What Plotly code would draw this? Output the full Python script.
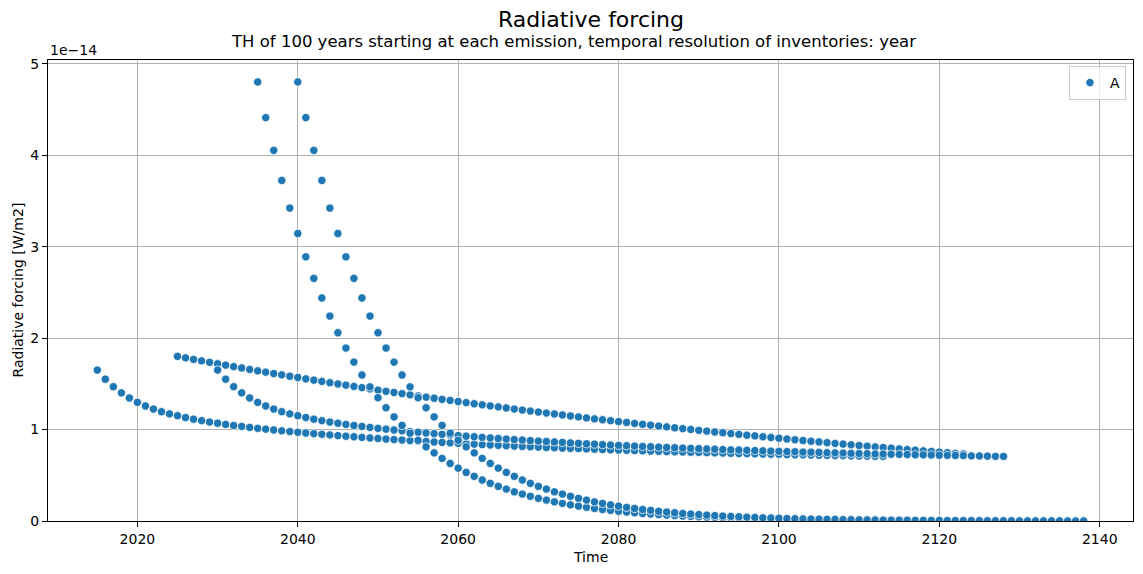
import plotly.graph_objects as go

# Emissions: year of emission and which response curve it follows
emission_years = [2015, 2025, 2030, 2035, 2040]
emission_gas = ["CO2", "N2O", "CO2", "CH4", "CH4"]

# Radiative forcing response after each emission, one value per year (units: 1e-14 W/m2)
co2_rf = [1.650, 1.550, 1.468, 1.401, 1.345, 1.297, 1.257, 1.224, 1.195, 1.171,
          1.151, 1.131, 1.113, 1.097, 1.082, 1.069, 1.056, 1.044, 1.034, 1.023,
          1.013, 1.004, 0.995, 0.986, 0.978, 0.970, 0.962, 0.955, 0.948, 0.941,
          0.934, 0.927, 0.921, 0.914, 0.908, 0.902, 0.896, 0.890, 0.885, 0.879,
          0.874, 0.869, 0.864, 0.859, 0.854, 0.849, 0.844, 0.840, 0.835, 0.831,
          0.827, 0.823, 0.819, 0.815, 0.812, 0.808, 0.804, 0.801, 0.797, 0.794,
          0.791, 0.788, 0.785, 0.781, 0.778, 0.776, 0.773, 0.770, 0.767, 0.764,
          0.762, 0.759, 0.757, 0.754, 0.752, 0.750, 0.747, 0.745, 0.743, 0.740,
          0.738, 0.736, 0.734, 0.732, 0.730, 0.728, 0.726, 0.724, 0.723, 0.721,
          0.719, 0.717, 0.716, 0.714, 0.712, 0.711, 0.709, 0.707, 0.706]

n2o_rf = [1.800, 1.784, 1.767, 1.751, 1.735, 1.719, 1.704, 1.688, 1.673, 1.657,
          1.642, 1.627, 1.612, 1.598, 1.583, 1.569, 1.554, 1.540, 1.526, 1.512,
          1.498, 1.485, 1.471, 1.458, 1.444, 1.431, 1.418, 1.405, 1.392, 1.379,
          1.367, 1.354, 1.342, 1.330, 1.318, 1.306, 1.294, 1.282, 1.270, 1.258,
          1.247, 1.236, 1.224, 1.213, 1.202, 1.191, 1.180, 1.170, 1.159, 1.148,
          1.138, 1.127, 1.117, 1.107, 1.097, 1.087, 1.077, 1.067, 1.057, 1.048,
          1.038, 1.029, 1.019, 1.010, 1.001, 0.991, 0.982, 0.973, 0.965, 0.956,
          0.947, 0.938, 0.930, 0.921, 0.913, 0.905, 0.896, 0.888, 0.880, 0.872,
          0.864, 0.856, 0.848, 0.841, 0.833, 0.825, 0.818, 0.810, 0.803, 0.796,
          0.788, 0.781, 0.774, 0.767, 0.760, 0.753, 0.746, 0.739, 0.733]

ch4_rf = [4.800, 4.410, 4.052, 3.723, 3.421, 3.143, 2.888, 2.653, 2.438, 2.240,
          2.058, 1.891, 1.737, 1.596, 1.467, 1.348, 1.238, 1.138, 1.045, 0.960,
          0.882, 0.811, 0.745, 0.684, 0.629, 0.578, 0.531, 0.488, 0.448, 0.412,
          0.378, 0.348, 0.319, 0.294, 0.270, 0.248, 0.228, 0.209, 0.192, 0.177,
          0.162, 0.149, 0.137, 0.126, 0.116, 0.106, 0.098, 0.090, 0.082, 0.076,
          0.070, 0.064, 0.059, 0.054, 0.050, 0.046, 0.042, 0.039, 0.035, 0.033,
          0.030, 0.027, 0.025, 0.023, 0.021, 0.020, 0.018, 0.017, 0.015, 0.014,
          0.013, 0.012, 0.011, 0.010, 0.009, 0.008, 0.008, 0.007, 0.007, 0.006,
          0.006, 0.005, 0.005, 0.004, 0.004, 0.004, 0.003, 0.003, 0.003, 0.003,
          0.002, 0.002, 0.002, 0.002, 0.002, 0.002, 0.001, 0.001, 0.001]

x_ticks = [2020, 2040, 2060, 2080, 2100, 2120, 2140]
y_ticks = [0, 1, 2, 3, 4, 5]

responses = {"CO2": co2_rf, "N2O": n2o_rf, "CH4": ch4_rf}

xs, ys = [], []
for yr, gas in zip(emission_years, emission_gas):
    arr = responses[gas]
    xs.extend([yr + i for i in range(len(arr))])
    ys.extend(arr)

FONT = "DejaVu Sans"
fig = go.Figure()
fig.add_trace(go.Scatter(
    x=xs, y=ys, mode="markers", name="A",
    marker=dict(color="#1f77b4", size=8.3, line=dict(color="white", width=0.75)),
))

W, H = 1143, 574
L, R, T, B = 48, 10, 60, 53
fig.update_layout(
    width=W, height=H, autosize=False,
    margin=dict(l=L, r=R, t=T, b=B),
    paper_bgcolor="white", plot_bgcolor="white",
    font=dict(family=FONT, size=14, color="black"),
    showlegend=True,
    legend=dict(x=0.9935, y=0.987, xanchor="right", yanchor="top",
                bgcolor="rgba(255,255,255,0.8)", bordercolor="#cccccc", borderwidth=1,
                font=dict(family=FONT, size=14), itemwidth=30),
)
fig.update_xaxes(range=[2008.85, 2144.15], tickvals=x_ticks, ticks="outside", ticklen=5,
                 tickcolor="black", tickwidth=1, showgrid=True, gridcolor="#b0b0b0", gridwidth=0.8,
                 showline=True, linecolor="black", linewidth=1, mirror=True, zeroline=False,
                 tickfont=dict(family=FONT, size=14))
fig.update_yaxes(range=[0, 5.04], tickvals=y_ticks, ticks="outside", ticklen=5,
                 tickcolor="black", tickwidth=1, showgrid=True, gridcolor="#b0b0b0", gridwidth=0.8,
                 showline=True, linecolor="black", linewidth=1, mirror=True, zeroline=False,
                 tickfont=dict(family=FONT, size=14))

ph = H - T - B
pw = W - L - R
def py(pix):
    return (H - B - pix) / ph
def px(pix):
    return (pix - L) / pw

fig.add_annotation(text="Radiative forcing", x=px(591), y=py(20), xref="paper", yref="paper",
                   xanchor="center", yanchor="middle", showarrow=False,
                   font=dict(family=FONT, size=22, color="black"))
fig.add_annotation(text="TH of 100 years starting at each emission, temporal resolution of inventories: year",
                   x=px(573), y=py(41), xref="paper", yref="paper",
                   xanchor="center", yanchor="middle", showarrow=False,
                   font=dict(family=FONT, size=16.5, color="black"))
fig.add_annotation(text="1e\u221214", x=0, y=py(50), xref="paper", yref="paper",
                   xanchor="left", yanchor="middle", showarrow=False,
                   font=dict(family=FONT, size=14, color="black"))
fig.add_annotation(text="Time", x=0.5, y=py(557), xref="paper", yref="paper",
                   xanchor="center", yanchor="middle", showarrow=False,
                   font=dict(family=FONT, size=14, color="black"))
fig.add_annotation(text="Radiative forcing [W/m2]", x=px(17), y=0.5, xref="paper", yref="paper",
                   xanchor="center", yanchor="middle", showarrow=False, textangle=-90,
                   font=dict(family=FONT, size=14, color="black"))

fig.write_html("out.html")
